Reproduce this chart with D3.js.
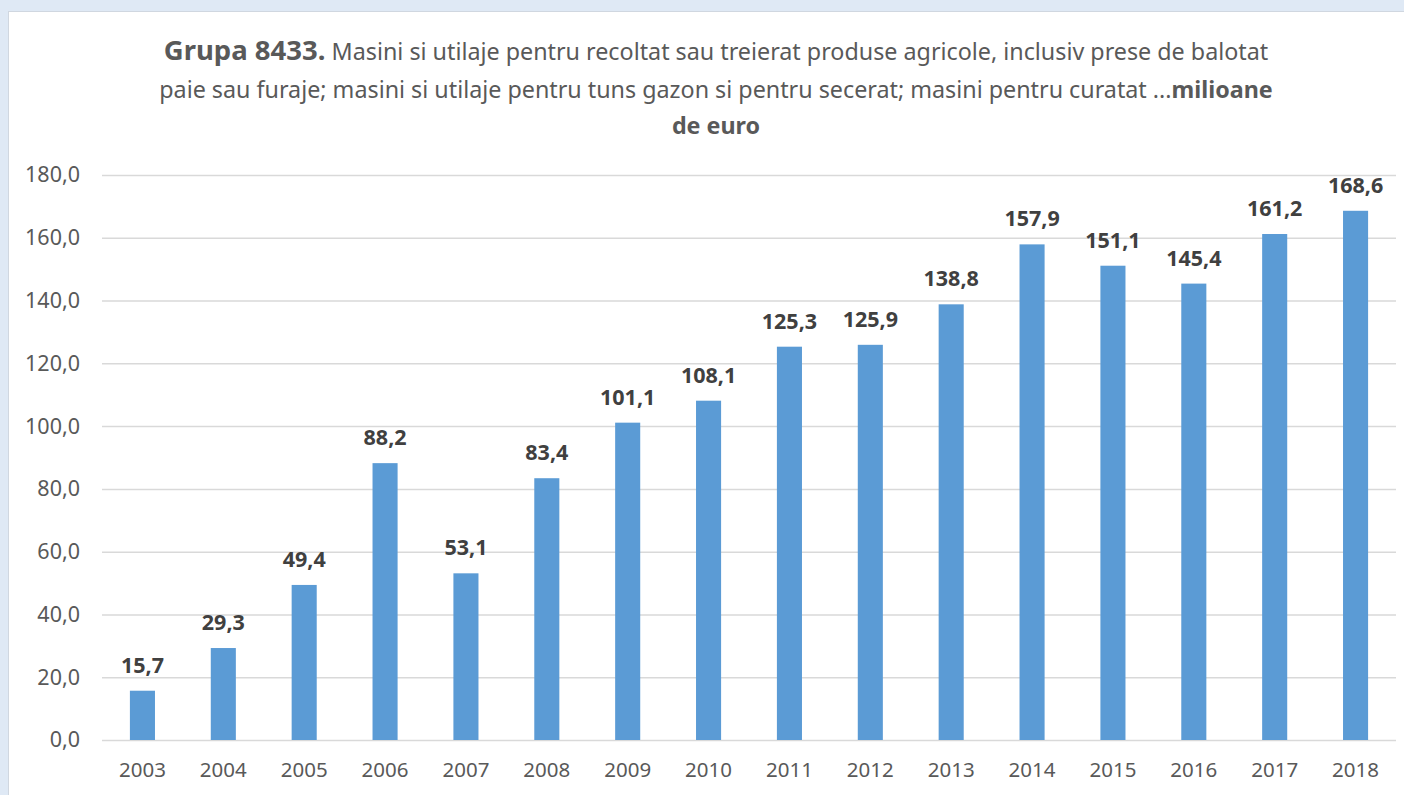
<!DOCTYPE html>
<html>
<head>
<meta charset="utf-8">
<script src="https://cdn.jsdelivr.net/npm/d3@7"></script>
<style>
	html, body { margin: 0; padding: 0; background: #dfe9f5; overflow: hidden; }
	svg { display: block; }
	text { font-family: "Noto Sans", "Open Sans", sans-serif; }
</style>
</head>
<body>
<div id="chart"></div>
<script>
/* eslint-disable no-magic-numbers */

var years = ["2003", "2004", "2005", "2006", "2007", "2008", "2009", "2010",
	"2011", "2012", "2013", "2014", "2015", "2016", "2017", "2018"];
var values = [15.7, 29.3, 49.4, 88.2, 53.1, 83.4, 101.1, 108.1,
	125.3, 125.9, 138.8, 157.9, 151.1, 145.4, 161.2, 168.6];
var yTicks = [0, 20, 40, 60, 80, 100, 120, 140, 160, 180];
var titleLines = [
	[{ t: "Grupa 8433.", b: true }, { t: " Masini si utilaje pentru recoltat sau treierat produse agricole, inclusiv prese de balotat", b: false }],
	[{ t: "paie sau furaje; masini si utilaje pentru tuns gazon si pentru secerat; masini pentru curatat ...", b: false }, { t: "milioane", b: true }],
	[{ t: "de euro", b: true }]
];

(function() {
	'use strict';

	var W = 1404,
		H = 795,
		margin = { top: 175, right: 8, bottom: 55, left: 102 },
		width = W - margin.left - margin.right,
		height = 740 - margin.top,
		fmt = function(v) { return d3.format(".1f")(v).replace(".", ","); },
		textColor = "#595959",
		labelColor = "#404040",
		barColor = "#5b9bd5",
		gridColor = "#d9d9d9";

	var svg = d3.select("#chart").append("svg")
		.attr("width", W)
		.attr("height", H);

	// white chart panel
	svg.append("rect")
		.attr("x", 8.5)
		.attr("y", 11.5)
		.attr("width", W)
		.attr("height", H)
		.attr("fill", "white")
		.attr("stroke", "#d0d7e0");

	// title
	var title = svg.append("text")
		.attr("text-anchor", "middle")
		.attr("fill", textColor);
	var lineY = [60, 98, 134];
	titleLines.forEach(function(parts, i) {
		var line = title.append("tspan")
			.attr("x", 716)
			.attr("y", lineY[i]);
		parts.forEach(function(p) {
			line.append("tspan")
				.attr("font-weight", p.b ? "bold" : "normal")
				.attr("font-size", p.b && i === 0 ? 27.5 : 23.3)
				.text(p.t);
		});
	});

	var g = svg.append("g")
		.attr("transform", "translate(" + margin.left + "," + margin.top + ")");

	var x = d3.scaleBand()
		.domain(years)
		.range([0, width])
		.paddingInner(0.69)
		.paddingOuter(0.345);

	var y = d3.scaleLinear()
		.domain([0, 180])
		.range([height, 0]);

	// gridlines + y labels
	g.append("g")
		.call(d3.axisLeft(y)
			.tickValues(yTicks)
			.tickFormat(fmt)
			.tickSize(-width)
			.tickPadding(22))
		.call(function(a) { a.select(".domain").remove(); })
		.call(function(a) {
			a.selectAll("line").attr("stroke", gridColor).attr("stroke-width", 1.5);
			a.selectAll("text")
				.attr("fill", textColor)
				.attr("font-size", 21.5)
				.style("font-family", "'Noto Sans', sans-serif");
		});

	// x labels
	g.append("g")
		.attr("transform", "translate(0," + height + ")")
		.call(d3.axisBottom(x).tickSize(0).tickPadding(22))
		.call(function(a) { a.select(".domain").remove(); })
		.call(function(a) {
			a.selectAll("text")
				.attr("fill", textColor)
				.attr("font-size", 20.5)
				.style("font-family", "'Noto Sans', sans-serif");
		});

	// bars
	g.append("g")
		.selectAll("rect")
		.data(values)
		.join("rect")
		.attr("x", function(d, i) { return x(years[i]); })
		.attr("y", function(d) { return y(d); })
		.attr("width", x.bandwidth())
		.attr("height", function(d) { return height - y(d); })
		.attr("fill", barColor);

	// data labels
	g.append("g")
		.selectAll("text")
		.data(values)
		.join("text")
		.attr("x", function(d, i) { return x(years[i]) + x.bandwidth() / 2; })
		.attr("y", function(d) { return y(d) - 18; })
		.attr("text-anchor", "middle")
		.attr("font-weight", "bold")
		.attr("font-size", 21.5)
		.attr("fill", labelColor)
		.text(fmt);
})();
</script>
</body>
</html>
